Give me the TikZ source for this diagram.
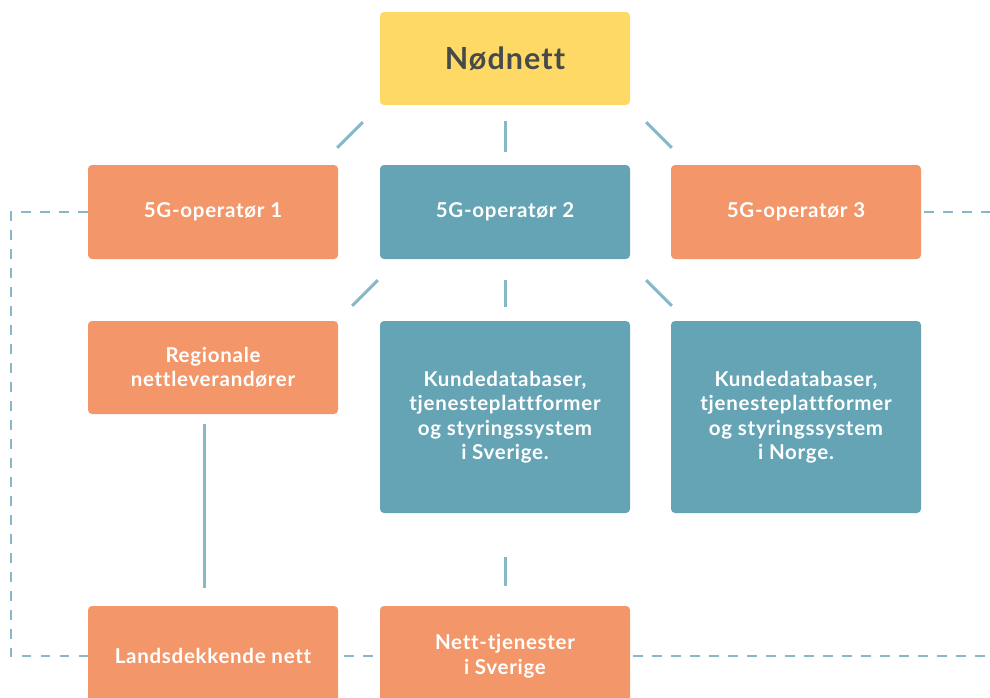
\documentclass[tikz,border=0pt]{standalone}
\usepackage{fontspec}
\setmainfont{Lato}[LetterSpace=3.5,Ligatures=NoCommon]
\usetikzlibrary{calc}
\definecolor{orng}{HTML}{F3976A}
\definecolor{teal}{HTML}{64A4B5}
\definecolor{yell}{HTML}{FFD966}
\definecolor{lnc}{HTML}{86B8C7}
\definecolor{dtxt}{HTML}{474A4A}
\begin{document}
\begin{tikzpicture}[x=1pt,y=-1pt,
  boxbase/.style={rounded corners=4pt, minimum width=250pt, inner sep=0pt, align=center,
     font=\fontsize{20.5}{24.5}\selectfont\bfseries, text=white},
  obox/.style={boxbase, fill=orng},
  tbox/.style={boxbase, fill=teal},
  ybox/.style={boxbase, fill=yell, text=dtxt, font=\fontsize{30.5}{34}\selectfont\bfseries},
  conn/.style={draw=lnc, line width=3pt},
  dconn/.style={draw=lnc, line width=2pt, dash pattern=on 9.5pt off 9.5pt}
]
\clip (0,0) rectangle (990,697);
\useasboundingbox (0,0) rectangle (990,697);
\node[ybox, minimum height=93pt] (nod) at (505,58.5) {Nødnett};
\node[obox, minimum height=94pt] (op1) at (213,212) {5G-operatør 1};
\node[tbox, minimum height=94pt] (op2) at (505,212) {5G-operatør 2};
\node[obox, minimum height=94pt] (op3) at (796,212) {5G-operatør 3};
\node[obox, minimum height=93pt] (reg) at (213,367.5) {Regionale\\nettleverandører};
\node[tbox, minimum height=192pt] (kse) at (505,417) {Kundedatabaser,\\tjenesteplattformer\\og styringssystem\\i Sverige.};
\node[tbox, minimum height=192pt] (kno) at (796,417) {Kundedatabaser,\\tjenesteplattformer\\og styringssystem\\i Norge.};
\node[obox, minimum height=100pt] (lan) at (213,656) {Landsdekkende nett};
\node[obox, minimum height=100pt] (net) at (505,656) {Nett-tjenester\\i Sverige};
% solid connectors
\draw[conn] ($(nod.south west)+(-17,17)$) -- ($(op1.north east)+(-1,-17)$);
\draw[conn] ($(nod.south)+(0,16)$) -- ($(op2.north)+(0,-13)$);
\draw[conn] ($(nod.south east)+(16,17)$) -- ($(op3.north west)+(1,-17)$);
\draw[conn] ($(op2.south west)+(-2,21)$) -- ($(reg.north east)+(14,-15)$);
\draw[conn] ($(op2.south)+(0,21)$) -- ($(kse.north)+(0,-14)$);
\draw[conn] ($(op2.south east)+(16,21)$) -- ($(kno.north west)+(1,-15)$);
\draw[conn] ($(reg.south)+(-9,10)$) -- ($(lan.north)+(-9,-18)$);
\draw[conn] ($(kse.south)+(0,44)$) -- ($(net.north)+(0,-20)$);
% dashed connectors
\draw[dconn] (op1.west) -- ++(-77,0) |- (lan.west);
\draw[dconn, dash phase=-6pt] (lan.east) -- (net.west);
\draw[dconn, dash phase=-3pt] (net.east) -- (990,656);
\draw[dconn, dash phase=-3pt] (op3.east) -- (990,212);
\end{tikzpicture}
\end{document}
